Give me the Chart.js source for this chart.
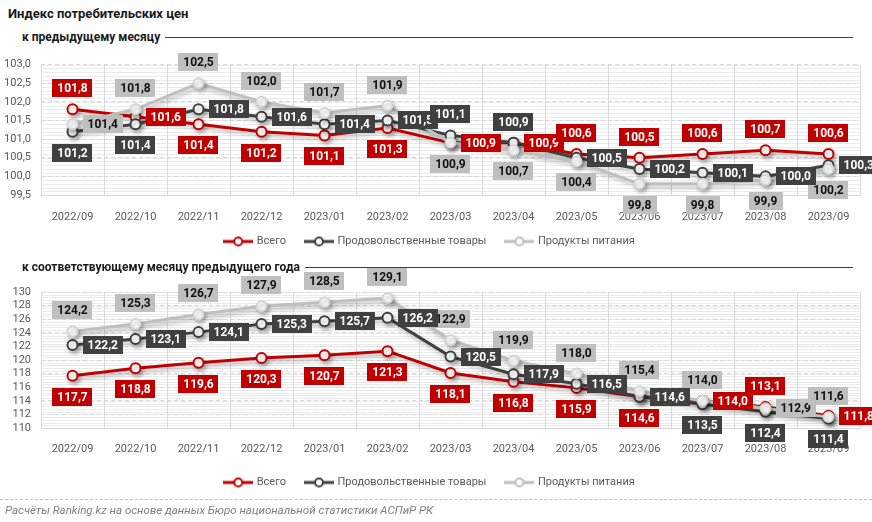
<!DOCTYPE html>
<html>
<head>
<meta charset="utf-8">
<script src="https://cdn.jsdelivr.net/npm/chart.js@4.4.0/dist/chart.umd.min.js"></script>
<style>
  body { margin: 0; width: 872px; height: 522px; background: #fff; font-family: Roboto, sans-serif; position: relative; overflow: hidden; }
  .title { position: absolute; left: 8px; top: 6px; font-size: 13px; font-weight: bold; color: #1a1a1a; }
  .sub { position: absolute; left: 22px; width: 831px; display: flex; align-items: center; font-size: 12px; font-weight: bold; color: #1a1a1a; }
  .sub span { white-space: nowrap; }
  .sub i { flex: 1; height: 1px; background: #404040; margin-left: 5px; }
  .box { position: absolute; left: 0; }
  .dash { position: absolute; left: 0; top: 499px; width: 872px; border-top: 1px dashed #bfbfbf; z-index: 2; }
  .foot { position: absolute; left: 5px; top: 503px; font-size: 11.5px; font-style: italic; color: #7f7f7f; z-index: 2; }
</style>
</head>
<body>
<div class="title">Индекс потребительских цен</div>
<div class="sub" style="top:30px"><span>к предыдущему месяцу</span><i></i></div>
<div class="box" style="top:48px"><canvas id="c1" width="872" height="224"></canvas></div>
<div class="sub" style="top:260px"><span>к соответствующему месяцу предыдущего года</span><i></i></div>
<div class="box" style="top:268px"><canvas id="c2" width="872" height="237"></canvas></div>
<div class="dash"></div>
<div class="foot">Расчёты Ranking.kz на основе данных Бюро национальной статистики АСПиР РК</div>

<script>
// Данные
const months = ['2022/09', '2022/10', '2022/11', '2022/12', '2023/01', '2023/02', '2023/03',
                '2023/04', '2023/05', '2023/06', '2023/07', '2023/08', '2023/09'];
const seriesNames = ['Всего', 'Продовольственные товары', 'Продукты питания'];

// к предыдущему месяцу
const totalMonth = [101.8, 101.6, 101.4, 101.2, 101.1, 101.3, 100.9, 100.9, 100.6, 100.5, 100.6, 100.7, 100.6];
const foodMonth  = [101.2, 101.4, 101.8, 101.6, 101.4, 101.5, 101.1, 100.9, 100.5, 100.2, 100.1, 100.0, 100.3];
const prodMonth  = [101.4, 101.8, 102.5, 102.0, 101.7, 101.9, 100.9, 100.7, 100.4, 99.8, 99.8, 99.9, 100.2];

// к соответствующему месяцу предыдущего года
const totalYear = [117.7, 118.8, 119.6, 120.3, 120.7, 121.3, 118.1, 116.8, 115.9, 114.6, 114.0, 113.1, 111.8];
const foodYear  = [122.2, 123.1, 124.1, 125.3, 125.7, 126.2, 120.5, 117.9, 116.5, 114.6, 113.5, 112.4, 111.4];
const prodYear  = [124.2, 125.3, 126.7, 127.9, 128.5, 129.1, 122.9, 119.9, 118.0, 115.4, 114.0, 112.9, 111.6];

// Стиль: где стоят подписи (a - сверху, b - снизу, r - справа)
const posMonth = [
    ['a','r','b','b','b','b','r','r','a','a','a','a','a'],
    ['b','b','r','r','r','r','a','a','r','r','r','r','r'],
    ['r','a','a','a','a','a','b','b','b','b','b','b','b']
];
const posYear = [
    ['b','b','b','b','b','b','b','b','b','b','r','a','r'],
    ['r','r','r','r','r','r','r','r','r','r','b','b','b'],
    ['a','a','a','a','a','a','a','a','a','a','a','r','a']
];

const colors = ['#c00000', '#404040', '#bfbfbf'];
const labelText = ['#ffffff', '#ffffff', '#111111'];

// Маркер для легенды: линия с кружком
function marker(color) {
    const c = document.createElement('canvas');
    c.width = 30; c.height = 12;
    const g = c.getContext('2d');
    g.strokeStyle = color;
    g.lineWidth = 3;
    g.beginPath(); g.moveTo(0, 6); g.lineTo(30, 6); g.stroke();
    g.beginPath(); g.arc(15, 6, 4, 0, Math.PI * 2);
    g.fillStyle = '#fff'; g.fill();
    g.lineWidth = 2; g.stroke();
    return c;
}

// Плагин: тени, дополнительная сетка, подписи значений, сдвиг легенды
const extras = {
    id: 'extras',
    afterLayout(chart, args, opts) {
        if (chart.legend && opts.legendShift) {
            chart.legend.top -= opts.legendShift;
            chart.legend.bottom -= opts.legendShift;
        }
    },
    beforeDraw(chart, args, opts) {
        const { ctx, chartArea } = chart;
        const y = chart.scales.y;
        ctx.save();
        ctx.strokeStyle = '#ebebeb';
        ctx.lineWidth = 1;
        for (let v = y.min; v <= y.max + 1e-9; v += opts.minor) {
            const py = Math.round(y.getPixelForValue(v)) + 0.5;
            ctx.beginPath();
            ctx.moveTo(chartArea.left, py);
            ctx.lineTo(chartArea.right, py);
            ctx.stroke();
        }
        ctx.restore();
    },
    beforeDatasetsDraw(chart) {
        const ctx = chart.ctx;
        ctx.save();
        ctx.shadowColor = 'rgba(0,0,0,0.28)';
        ctx.shadowBlur = 4;
        ctx.shadowOffsetX = 2;
        ctx.shadowOffsetY = 3;
    },
    afterDatasetsDraw(chart, args, opts) {
        const ctx = chart.ctx;
        ctx.restore();
        ctx.save();
        ctx.font = 'bold 12px Roboto, sans-serif';
        ctx.textAlign = 'center';
        ctx.textBaseline = 'middle';
        for (let i = chart.data.datasets.length - 1; i >= 0; i--) {
            const ds = chart.data.datasets[i];
            const meta = chart.getDatasetMeta(i);
            meta.data.forEach((pt, j) => {
                const txt = ds.data[j].toFixed(1).replace('.', ',');
                const w = ctx.measureText(txt).width + 10;
                const h = 18;
                let cx = pt.x, cy = pt.y;
                const p = opts.pos[i][j];
                if (p === 'a') cy = pt.y - 21;
                else if (p === 'b') cy = pt.y + 21;
                else cx = pt.x + 10 + w / 2;
                ctx.fillStyle = colors[i];
                ctx.fillRect(Math.round(cx - w / 2), Math.round(cy - h / 2), Math.round(w), h);
                ctx.fillStyle = labelText[i];
                ctx.fillText(txt, cx, cy + 1);
            });
        }
        ctx.restore();
    }
};

function makeChart(id, series, yMin, yMax, step, minor, decimals, pos, padTop, tickPad, shift) {
    const datasets = series.map((vals, i) => ({
        label: seriesNames[i],
        data: vals,
        borderColor: colors[i],
        backgroundColor: colors[i],
        borderWidth: 3,
        tension: 0,
        pointRadius: 5,
        pointBorderWidth: 2,
        pointBackgroundColor: '#ffffff',
        pointBorderColor: i === 2 ? '#d4d4d4' : colors[i],
        order: 2 - i
    }));

    return new Chart(document.getElementById(id), {
        type: 'line',
        data: { labels: months, datasets: datasets },
        plugins: [extras],
        options: {
            responsive: false,
            animation: false,
            events: [],
            layout: { padding: { top: padTop, right: 12, left: 0, bottom: 0 } },
            scales: {
                x: {
                    offset: true,
                    grid: { color: '#d9d9d9', drawTicks: false, offset: true },
                    border: { color: '#d9d9d9' },
                    ticks: { color: '#595959', font: { family: 'Roboto', size: 11 }, padding: tickPad, maxRotation: 0 },
                    afterFit: s => { s.height = 36; }
                },
                y: {
                    min: yMin,
                    max: yMax,
                    grid: { color: '#d9d9d9', drawTicks: false },
                    border: { display: false, dash: [4, 3] },
                    ticks: {
                        stepSize: step,
                        autoSkip: false,
                        color: '#595959',
                        font: { family: 'Roboto', size: 11 },
                        padding: 10,
                        callback: v => v.toFixed(decimals).replace('.', ',')
                    },
                    afterFit: s => { s.width = 41; }
                }
            },
            plugins: {
                tooltip: { enabled: false },
                extras: { minor: minor, pos: pos, legendShift: shift },
                legend: {
                    position: 'bottom',
                    labels: {
                        usePointStyle: true,
                        pointStyleWidth: 26,
                        padding: 20,
                        color: '#595959',
                        font: { family: 'Roboto', size: 11 },
                        generateLabels: chart => chart.data.datasets.map((ds, i) => ({
                            text: ds.label,
                            pointStyle: marker(ds.borderColor),
                            fillStyle: ds.borderColor,
                            strokeStyle: ds.borderColor,
                            lineWidth: 0,
                            fontColor: '#595959',
                            datasetIndex: i,
                            hidden: false
                        }))
                    }
                }
            }
        }
    });
}

makeChart('c1', [totalMonth, foodMonth, prodMonth], 99.5, 103, 0.5, 0.1, 1, posMonth, 14, 16, 15);
makeChart('c2', [totalYear, foodYear, prodYear], 110, 130, 2, 0.4, 0, posYear, 24, 15, 7);
</script>
</body>
</html>
